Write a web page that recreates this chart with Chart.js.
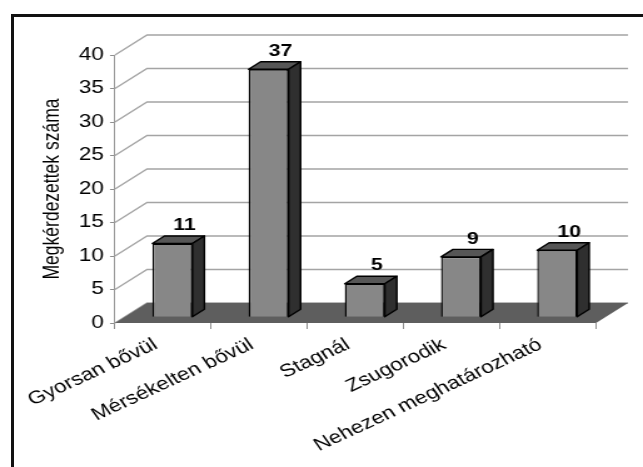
<!DOCTYPE html>
<html>
<head>
<meta charset="utf-8">
<script src="https://cdn.jsdelivr.net/npm/chart.js@4.4.1/dist/chart.umd.min.js"></script>
<style>
  html, body { margin: 0; padding: 0; background: #fff; overflow: hidden; }
  #frame { position: absolute; left: 11px; top: 14px; width: 700px; height: 520px;
           border-left: 3px solid #111; border-top: 3px solid #111; }
  /* the drawing is laid out on a narrower canvas and widened horizontally */
  #wrap { position: absolute; left: 0; top: 0; width: 514px; height: 467px;
          transform: scaleX(1.251); transform-origin: 0 0; }
</style>
</head>
<body>
<div id="frame"></div>
<div id="wrap"><canvas id="chart"></canvas></div>
<script>
// Survey answers: how the respondent's market is developing
const categories = ['Gyorsan bővül', 'Mérsékelten bővül', 'Stagnál', 'Zsugorodik', 'Nehezen meghatározható'];
const respondents = [11, 37, 5, 9, 10];
const yTickValues = [0, 5, 10, 15, 20, 25, 30, 35, 40];
const yAxisTitle = 'Megkérdezettek száma';

// horizontal widening applied by CSS
const SX = 1.251;

// 3D look: depth of the floor/back wall, and where the bar sits in it
const DEPTH_DX = 32 / SX, DEPTH_DY = -20;
const BAR_OFFSET = 0.29;   // fraction of the depth in front of the bar
const BAR_DEPTH = 0.375;   // fraction of the depth taken by the bar

const GRID = '#a4a4a4';
const FRONT = '#878787', TOP = '#565656', SIDE = '#2f2f2f', FLOOR = '#5e5e5e';
const FONT = 'Liberation Sans, Arial, sans-serif';

const threeD = {
  id: 'threeD',
  beforeDatasetsDraw(chart) {
    const ctx = chart.ctx, a = chart.chartArea, y = chart.scales.y;
    ctx.save();
    // back wall grid with its diagonal connectors to the value axis
    ctx.strokeStyle = GRID;
    ctx.lineWidth = 1.3;
    yTickValues.forEach(v => {
      const py = y.getPixelForValue(v);
      ctx.beginPath();
      ctx.moveTo(a.left, py);
      ctx.lineTo(a.left + DEPTH_DX, py + DEPTH_DY);
      ctx.lineTo(a.right + DEPTH_DX, py + DEPTH_DY);
      ctx.stroke();
    });
    // floor
    const b = y.getPixelForValue(0);
    ctx.fillStyle = FLOOR;
    ctx.beginPath();
    ctx.moveTo(a.left, b);
    ctx.lineTo(a.right, b);
    ctx.lineTo(a.right + DEPTH_DX, b + DEPTH_DY);
    ctx.lineTo(a.left + DEPTH_DX, b + DEPTH_DY);
    ctx.closePath();
    ctx.fill();
    ctx.restore();
    // front faces of the bars are drawn pushed back into the floor
    ctx.save();
    ctx.translate(DEPTH_DX * BAR_OFFSET, DEPTH_DY * BAR_OFFSET);
  },
  afterDatasetsDraw(chart) {
    const ctx = chart.ctx;
    ctx.restore();
    const ox = DEPTH_DX * BAR_OFFSET, oy = DEPTH_DY * BAR_OFFSET;
    const dx = DEPTH_DX * BAR_DEPTH, dy = DEPTH_DY * BAR_DEPTH;
    const meta = chart.getDatasetMeta(0);
    const data = chart.data.datasets[0].data;
    ctx.save();
    ctx.lineJoin = 'round';
    ctx.lineWidth = 1.4;
    ctx.strokeStyle = '#000';
    meta.data.forEach((bar, i) => {
      const p = bar.getProps(['x', 'y', 'base', 'width'], true);
      const l = p.x - p.width / 2 + ox, r = p.x + p.width / 2 + ox;
      const t = p.y + oy, btm = p.base + oy;
      // top face
      ctx.fillStyle = TOP;
      ctx.beginPath();
      ctx.moveTo(l, t); ctx.lineTo(l + dx, t + dy); ctx.lineTo(r + dx, t + dy); ctx.lineTo(r, t);
      ctx.closePath(); ctx.fill(); ctx.stroke();
      // side face
      ctx.fillStyle = SIDE;
      ctx.beginPath();
      ctx.moveTo(r, t); ctx.lineTo(r + dx, t + dy); ctx.lineTo(r + dx, btm + dy); ctx.lineTo(r, btm);
      ctx.closePath(); ctx.fill(); ctx.stroke();
      // value label
      ctx.fillStyle = '#000';
      ctx.font = 'bold 17px ' + FONT;
      ctx.textAlign = 'center';
      ctx.textBaseline = 'bottom';
      ctx.fillText(String(data[i]), p.x + ox + dx, t + dy - 2);
    });
    ctx.restore();
  }
};

new Chart(document.getElementById('chart'), {
  type: 'bar',
  data: {
    labels: categories,
    datasets: [{
      data: respondents,
      backgroundColor: FRONT,
      borderColor: '#000',
      borderWidth: 1.4,
      barPercentage: 0.416,
      categoryPercentage: 1,
      clip: false
    }]
  },
  options: {
    responsive: true,
    maintainAspectRatio: false,
    animation: false,
    events: [],
    layout: { autoPadding: false, padding: { left: 0, top: 55, right: 514 - 596 / SX, bottom: 0 } },
    plugins: { legend: { display: false }, tooltip: { enabled: false } },
    scales: {
      x: {
        afterFit(s) { s.height = 467 - 323; },
        grid: { offset: true, drawOnChartArea: false, drawTicks: true, tickLength: 6, color: '#8f8f8f' },
        border: { display: false },
        ticks: { autoSkip: false, minRotation: 30, maxRotation: 30, padding: 5, labelOffset: -6,
                 color: '#000', font: { family: FONT, size: 18 } }
      },
      y: {
        min: 0, max: 40,
        afterFit(s) { s.width = 115 / SX; },
        afterBuildTicks(s) { s.ticks = yTickValues.map(v => ({ value: v })); },
        grid: { drawOnChartArea: false, drawTicks: true, tickLength: 4, color: '#8f8f8f' },
        border: { display: true, color: '#9a9a9a', width: 1 },
        ticks: { padding: 5, color: '#000', font: { family: FONT, size: 18 } },
        title: { display: true, text: yAxisTitle, color: '#000', padding: { top: 32, bottom: 0 },
                 font: { family: FONT, size: 17.5 } }
      }
    }
  },
  plugins: [threeD]
});
</script>
</body>
</html>
